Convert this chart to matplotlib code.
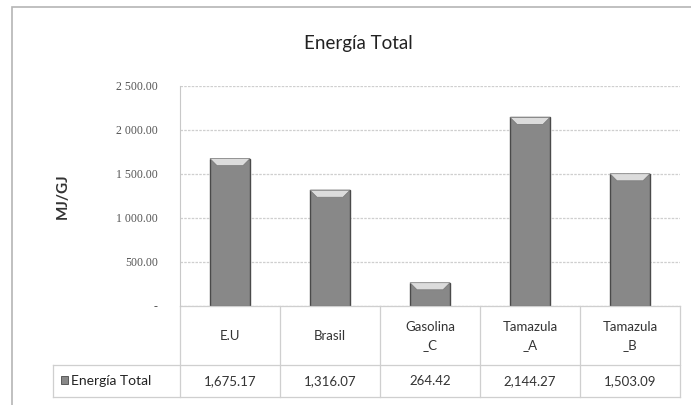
import matplotlib
matplotlib.use("Agg")
import matplotlib.pyplot as plt
from matplotlib.patches import Rectangle, Polygon
from matplotlib.transforms import blended_transform_factory

# data
categorias = ["E.U", "Brasil", "Gasolina\n_C", "Tamazula\n_A", "Tamazula\n_B"]
energia = [1675.17, 1316.07, 264.42, 2144.27, 1503.09]
ticks = [0, 500, 1000, 1500, 2000, 2500]
tick_labels = ["-", "500.00", "1 000.00", "1 500.00", "2 000.00", "2 500.00"]
serie = "Energía Total"

W, H = 691, 405
fig = plt.figure(figsize=(W / 100, H / 100), dpi=100)
fig.patch.set_facecolor("white")

def fx(px):
    return px / W

def fy(py):
    return 1 - py / H

# outer chart border
fig.patches.append(Rectangle((fx(12), fy(420)), fx(700) - fx(12), fy(7) - fy(420),
                             transform=fig.transFigure, fill=False,
                             edgecolor="#b5b5b5", lw=1.2))

# plot area: x 180..680, y 86..306 px
ax = fig.add_axes([fx(180), fy(306), fx(500), 220 / H])
ax.set_xlim(-0.5, len(categorias) - 0.5)
ax.set_ylim(0, 2500)
for s in ["top", "right", "bottom"]:
    ax.spines[s].set_visible(False)
ax.spines["left"].set_color("#c8c8c8")
ax.set_yticks(ticks)
ax.set_yticklabels(tick_labels, family="Liberation Serif", fontsize=8.5, color="#555555")
ax.tick_params(axis="y", length=0, pad=16)
ax.set_xticks([])
ax.yaxis.grid(True, color="#cfcfcf", lw=0.9, ls=(0, (2, 1)))
ax.set_axisbelow(True)

ax.set_ylabel("MJ/GJ", fontsize=11, family="Lato", fontweight="bold", color="#333333")
ax.yaxis.set_label_coords(-0.22, 0.5)

# bars
bw = 0.4
xs = range(len(categorias))
ax.bar(xs, energia, width=bw, color="#888888", edgecolor="#4a4a4a", lw=1.0, zorder=2)
bev_h = 80
bev_d = 0.07
for x, v in zip(xs, energia):
    pts = [(x - bw / 2, v), (x + bw / 2, v), (x + bw / 2 - bev_d, v - bev_h), (x - bw / 2 + bev_d, v - bev_h)]
    ax.add_patch(Polygon(pts, closed=True, facecolor="#dcdcdc", edgecolor="#777777", lw=0.5, zorder=3))

# title
fig.text(fx(358), fy(43), "Energía Total", ha="center", va="center",
         fontsize=13.5, family="Lato", color="#222222")

# data table below the axis
tr = blended_transform_factory(ax.transData, ax.transAxes)
def ya(py):
    return (306 - py) / 220

line_kw = dict(color="#cfcfcf", lw=0.9, transform=tr, clip_on=False)
x_left = -0.5 - 127 / 100
x_right = len(categorias) - 0.5
# horizontal lines
ax.plot([-0.5, x_right], [ya(306), ya(306)], **line_kw)
ax.plot([x_left, x_right], [ya(365), ya(365)], **line_kw)
ax.plot([x_left, x_right], [ya(397), ya(397)], **line_kw)
# vertical lines
ax.plot([x_left, x_left], [ya(365), ya(397)], **line_kw)
for k in range(len(categorias) + 1):
    ax.plot([k - 0.5, k - 0.5], [ya(306), ya(397)], **line_kw)

for x, c, v in zip(xs, categorias, energia):
    ax.text(x, ya(336), c, ha="center", va="center", transform=tr, fontsize=9.5,
            family="Lato", color="#333333", linespacing=1.6)
    ax.text(x, ya(381), f"{v:,.2f}", ha="center", va="center", transform=tr,
            fontsize=9.5, family="Lato", color="#333333")

# legend key in the table
ax.add_patch(Rectangle((x_left + 0.08, ya(384)), 0.07, 0.035, transform=tr, clip_on=False,
                       facecolor="#888888", edgecolor="#4a4a4a", lw=0.6))
ax.text(x_left + 0.18, ya(381), serie, ha="left", va="center", transform=tr,
        fontsize=10, family="Lato", color="#222222")

fig.savefig("out.png", dpi=100)
